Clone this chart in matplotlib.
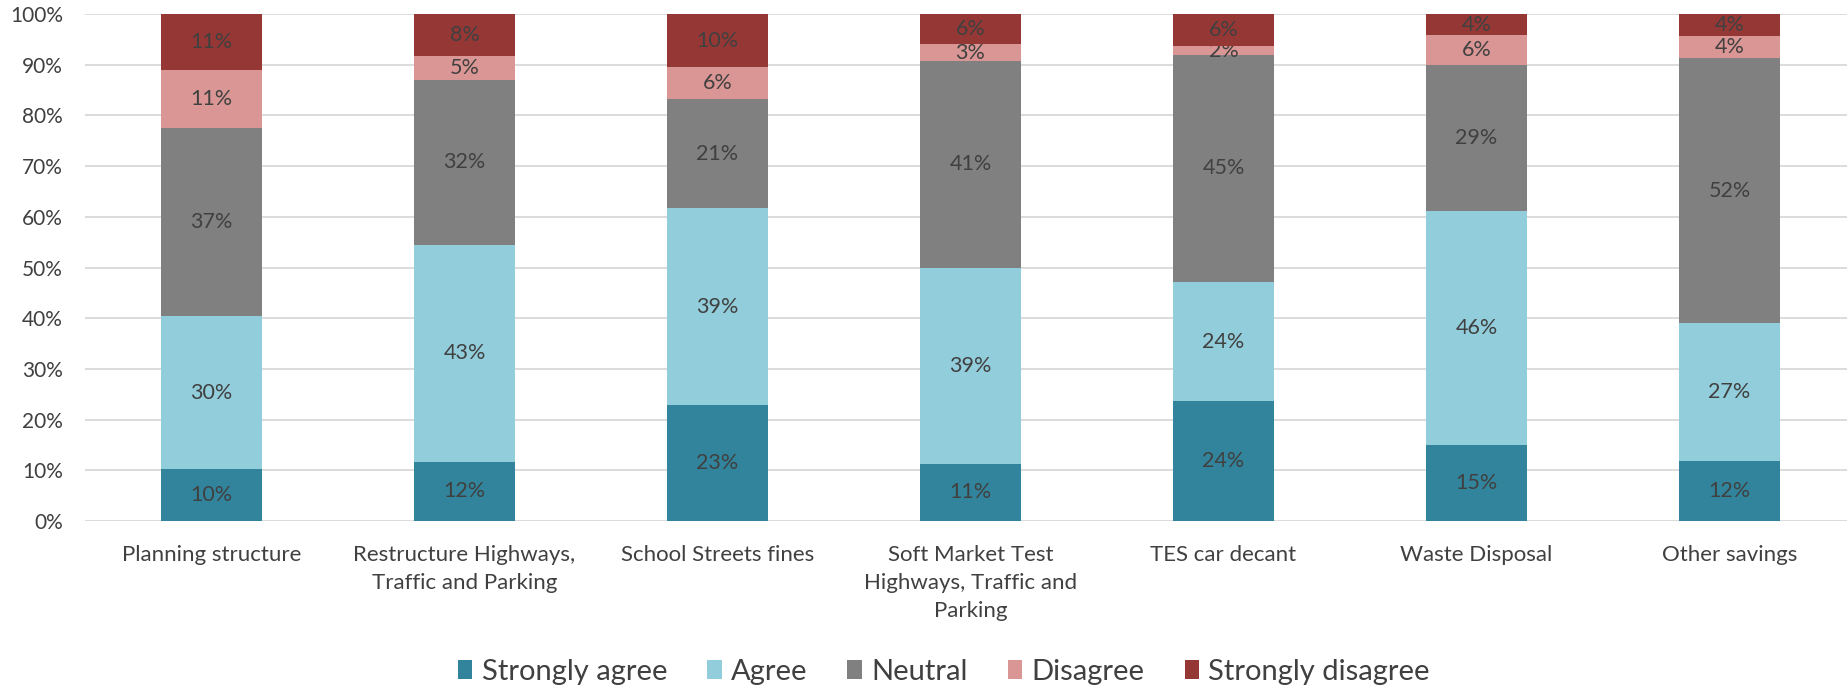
import numpy as np
import matplotlib
matplotlib.use("Agg")
import matplotlib.pyplot as plt
from matplotlib.ticker import PercentFormatter

plt.rcParams['font.family'] = ['Lato', 'DejaVu Sans']

# categories and shares (percent)
categories = ["Planning structure",
              "Restructure Highways,\nTraffic and Parking",
              "School Streets fines",
              "Soft Market Test\nHighways, Traffic and\nParking",
              "TES car decant",
              "Waste Disposal",
              "Other savings"]
strongly_agree = [10.2, 11.7, 22.9, 11.3, 23.6, 15.0, 11.8]
agree = [30.2, 42.8, 38.8, 38.7, 23.6, 46.2, 27.2]
neutral = [37.2, 32.5, 21.5, 40.7, 44.7, 28.8, 52.3]
disagree = [11.4, 4.8, 6.3, 3.3, 1.8, 5.8, 4.3]
strongly_disagree = [11.0, 8.2, 10.5, 6.0, 6.3, 4.2, 4.4]

series = [("Strongly agree", strongly_agree, "#31849B"),
          ("Agree", agree, "#92CDDC"),
          ("Neutral", neutral, "#808080"),
          ("Disagree", disagree, "#DA9694"),
          ("Strongly disagree", strongly_disagree, "#953735")]

txt = "#404040"
fig = plt.figure(figsize=(18.47, 6.85), dpi=100)
ax = fig.add_axes([85 / 1847, 164 / 685, 1771 / 1847, 507 / 685])

x = np.arange(len(categories))
bottom = np.zeros(len(categories))
for name, vals, col in series:
    vals = np.array(vals)
    bars = ax.bar(x, vals, 0.4, bottom=bottom, color=col, label=name, zorder=3)
    ax.bar_label(bars, fmt='{:.0f}%', label_type='center', color=txt, fontsize=15.5)
    bottom += vals

ax.set_xlim(-0.5, len(categories) - 0.5)
ax.set_ylim(0, 100)
ax.set_yticks(np.arange(0, 101, 10))
ax.yaxis.set_major_formatter(PercentFormatter(decimals=0))
ax.set_xticks(x)
ax.set_xticklabels(categories, linespacing=1.5)
ax.tick_params(axis='y', length=0, pad=16, labelsize=15, labelcolor=txt)
ax.tick_params(axis='x', length=0, pad=17, labelsize=16, labelcolor=txt)
ax.grid(axis='y', color="#D9D9D9", linewidth=1.3, zorder=0)
for s in ax.spines.values():
    s.set_visible(False)

fig.legend(loc='center', bbox_to_anchor=(0.511, 13 / 685), ncol=5, frameon=False,
           fontsize=21, labelcolor=txt, handlelength=0.5, handleheight=0.65,
           handletextpad=0.32, columnspacing=1.37)

fig.savefig("out.png", dpi=100)
